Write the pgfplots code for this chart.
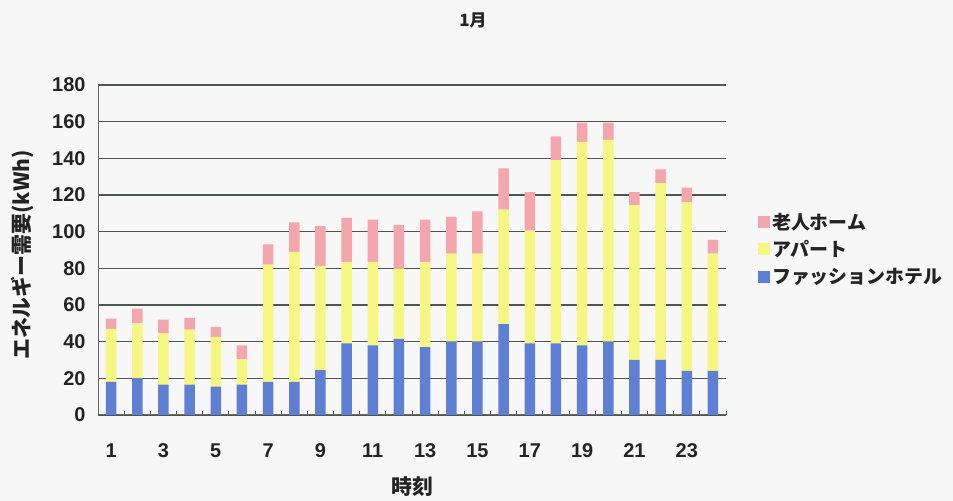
\documentclass[border=0pt]{standalone}
\usepackage{fontspec}
\usepackage{pgfplots}
\pgfplotsset{compat=1.18}
\setmainfont{Liberation Sans}
\newfontfamily\jp{Noto Sans CJK JP}

\definecolor{bg}{RGB}{247,247,247}
\definecolor{hotel}{RGB}{95,127,212}
\definecolor{apart}{RGB}{246,246,130}
\definecolor{home}{RGB}{243,166,172}
\definecolor{gridc}{RGB}{78,86,82}
\definecolor{txt}{RGB}{35,35,35}

% hourly energy demand (kWh) by building type
\pgfplotstableread{
h  hotel apart home
1  18    29    5.5
2  20    30    8
3  16.5  28    7.5
4  16.5  30    6.5
5  15.5  27    5.5
6  16.5  14    7.5
7  18    64    11
8  18    71    16
9  24.5  56.5  22
10 39    44.5  24
11 38    45.5  23
12 41.5  38.5  23.5
13 37    46.5  23
14 40    48    20
15 40    48    23
16 49.5  62.5  22.5
17 39    61.5  21
18 39    100   13
19 38    111   10.5
20 40    110   9.5
21 30    84.5  7
22 30    96.5  7.5
23 24    92    8
24 24    64    7.5
}\energy

\begin{document}
\begin{tikzpicture}
% page background and free text, in bp measured from the page's lower left corner
\begin{scope}[x=1bp, y=1bp, shift={(-98bp,-86bp)}]
\fill[bg] (0,0) rectangle (953,501);
\node[text=txt,font=\jp\bfseries\fontsize{17}{19}\selectfont] at (473,481) {1月};
\node[text=txt,rotate=90,font=\jp\bfseries\fontsize{21}{23}\selectfont] at (22,246) {エネルギー需要(kWh)};
\node[text=txt,font=\jp\bfseries\fontsize{21}{23}\selectfont] at (412,14) {時刻};
\end{scope}
\begin{axis}[
  anchor=south west,
  scale only axis, width=628bp, height=330bp,
  ybar stacked, bar width=10.5bp,
  xmin=0.5, xmax=24.5, ymin=0, ymax=180,
  ytick={0,20,...,180},
  xtick={1,3,...,23},
  minor xtick={1.5,2.5,...,24.5},
  major tick length=0pt,
  minor tick length=4bp,
  minor tick style={gridc, line width=1bp},
  ymajorgrids,
  major grid style={gridc, line width=1.3bp},
  axis x line*=bottom, axis y line*=left,
  axis line style={gray!80!black, line width=1bp},
  tick label style={text=txt, font=\bfseries\fontsize{20}{22}\selectfont,
    /pgf/number format/assume math mode=true},
  xticklabel style={yshift=-25bp},
  yticklabel style={xshift=-9bp},
  legend style={at={(1.046,0.625)}, anchor=north west, draw=none, fill=none,
    text=txt, font=\jp\bfseries\fontsize{19}{22}\selectfont,
    row sep=6bp, cells={anchor=west}},
  reverse legend,
  sq/.style={legend image code/.code={\fill[##1] (0bp,-6bp) rectangle (12bp,6bp);}},
]
\addplot[fill=hotel, draw=none, sq] table[x=h, y=hotel] {\energy};
\addplot[fill=apart, draw=none, sq] table[x=h, y=apart] {\energy};
\addplot[fill=home,  draw=none, sq] table[x=h, y=home]  {\energy};
\legend{ファッションホテル, アパート, 老人ホーム}
\end{axis}
\end{tikzpicture}
\end{document}
